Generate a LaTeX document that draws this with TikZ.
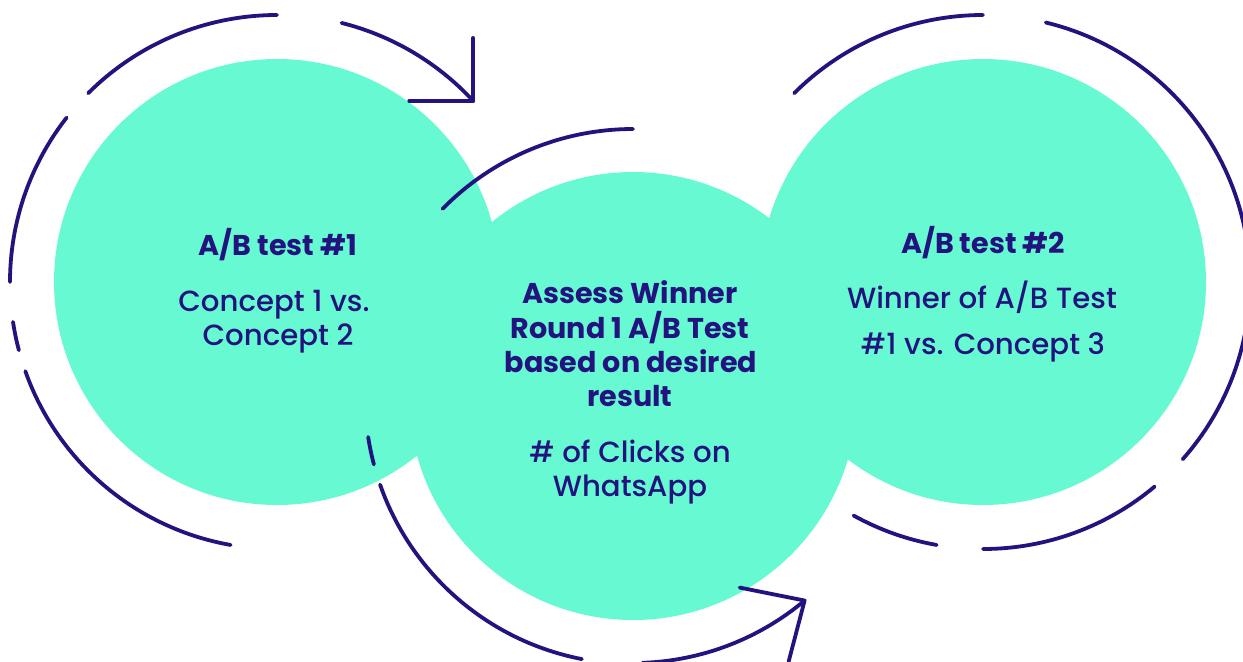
\documentclass[tikz,border=0pt]{standalone}
\usepackage{fontspec}
\setmainfont{Poppins}
\newfontfamily\medfont{Poppins Medium}
\usetikzlibrary{calc}
\definecolor{mint}{HTML}{67F9D1}
\definecolor{ink}{HTML}{23137E}
\begin{document}
\begin{tikzpicture}[x=0.5pt,y=0.5pt,
  disc/.style={circle,fill=mint,inner sep=0pt},
  ring/.style={draw=ink,line width=1.9pt,line cap=round,line join=round},
  ttl/.style={anchor=base,text=ink,inner sep=0pt,font=\fontsize{14.3}{17}\selectfont\bfseries},
  txt/.style={anchor=base,text=ink,inner sep=0pt,font=\medfont\fontsize{14.6}{17}\selectfont}]
\useasboundingbox (0,0) rectangle (1243,-661);
\clip (0,0) rectangle (1243,-661);
% circles
\node[disc,minimum size=223pt] (L) at (277,-282) {};
\node[disc,minimum size=223pt] (R) at (983,-282) {};
\node[disc,minimum size=224pt] (M) at (633,-396) {};
% left ring
\draw[ring] ([shift={(90:267)}]L.center) arc[start angle=90,end angle=135,radius=267];
\draw[ring] ([shift={(142:267)}]L.center) arc[start angle=142,end angle=180,radius=267];
\draw[ring] ([shift={(188.6:267)}]L.center) arc[start angle=188.6,end angle=194.8,radius=267];
\draw[ring] ([shift={(199.5:267)}]L.center) arc[start angle=199.5,end angle=260,radius=267];
\draw[ring] ([shift={(76:267)}]L.center) arc[start angle=76,end angle=42.7,radius=267] coordinate (tipL);
\draw[ring] ($(tipL)+(0,63)$) -- (tipL) -- ($(tipL)+(-64,0)$);
% middle ring
\draw[ring] ([shift={(90:267)}]M.center) arc[start angle=90,end angle=135.5,radius=267];
\draw[ring] ([shift={(188.8:268)}]M.center) arc[start angle=188.8,end angle=194.8,radius=268];
\draw[ring] ([shift={(199.3:268)}]M.center) arc[start angle=199.3,end angle=259,radius=268];
\draw[ring] ([shift={(272:267)}]M.center) arc[start angle=272,end angle=310,radius=267] coordinate (tipM);
\draw[ring] ($(tipM)+(-65,13)$) -- (tipM) -- ($(tipM)+(-16,-61)$);
% right ring
\draw[ring] ([shift={(90:267)}]R.center) arc[start angle=90,end angle=135,radius=267];
\draw[ring] ([shift={(76.4:267)}]R.center) arc[start angle=76.4,end angle=-41.6,radius=267];
\draw[ring] ([shift={(-50:267)}]R.center) arc[start angle=-50,end angle=-90,radius=267];
\draw[ring] ([shift={(241:267)}]R.center) arc[start angle=241,end angle=260,radius=267];
% texts
\node[ttl] (t1) at (278,-255) {A/B test \#1};
\node[txt] (t1a) at (274,-311) {Concept 1 vs.};
\node[txt] (t1b) at (278,-345) {Concept 2};
\node[ttl] (m1) at (630,-303) {Assess Winner};
\node[ttl] (m2) at (630,-338) {Round 1 A/B Test};
\node[ttl] (m3) at (631,-372) {based on desired};
\node[ttl] (m4) at (630,-406) {result};
\node[txt] (m5) at (630,-462) {\# of Clicks on};
\node[txt] (m6) at (630,-496) {WhatsApp};
\node[ttl] (r1) at (983,-253) {A/B test \#2};
\node[txt] (r2) at (982,-308) {Winner of A/B Test};
\node[txt] (r3) at (983,-354) {\#1 vs. Concept 3};
\end{tikzpicture}
\end{document}
